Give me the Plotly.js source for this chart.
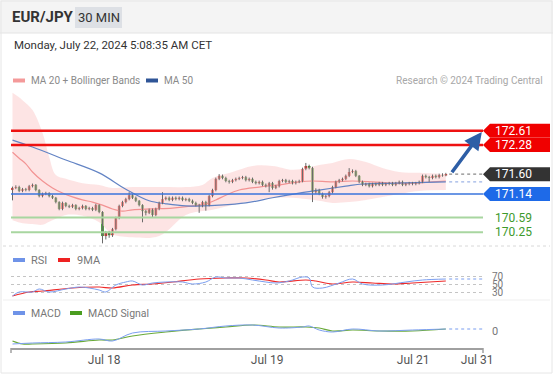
<!DOCTYPE html>
<html><head><meta charset="utf-8">
<script src="https://cdn.plot.ly/plotly-3.0.1.min.js"></script>
<style>html,body{margin:0;padding:0;background:#fff;}#chart{width:553px;height:375px;}</style>
</head><body><div id="chart"></div>
<script>
// ---------- DATA ----------
const opens = [171.23,171.28,171.30,171.21,171.25,171.23,171.32,171.35,171.23,171.09,
171.14,171.16,171.09,171.05,170.95,170.79,170.93,170.86,170.84,170.88,
170.79,170.81,170.86,170.79,170.81,170.77,170.88,170.72,170.16,170.23,
170.18,170.32,170.58,170.86,170.95,171.02,171.11,171.05,170.98,170.88,
170.74,170.70,170.77,170.65,170.79,170.93,171.02,171.05,171.00,171.05,
171.02,171.05,171.00,171.02,170.98,170.93,170.88,170.86,170.95,170.88,
171.09,171.23,171.49,171.56,171.51,171.44,171.42,171.46,171.49,171.51,
171.53,171.46,171.49,171.42,171.39,171.42,171.35,171.32,171.39,171.28,
171.32,171.44,171.46,171.42,171.44,171.39,171.42,171.44,171.72,171.79,
171.74,171.18,171.23,171.14,171.07,171.09,171.18,171.30,171.42,171.46,
171.49,171.56,171.65,171.67,171.56,171.42,171.35,171.37,171.32,171.37,
171.35,171.39,171.35,171.37,171.39,171.35,171.39,171.42,171.35,171.37,
171.39,171.37,171.39,171.42,171.56,171.53,171.51,171.56,171.53,171.58,
171.57];
const closes = [171.28,171.30,171.21,171.25,171.23,171.32,171.35,171.23,171.09,171.14,
171.16,171.09,171.05,170.95,170.79,170.93,170.86,170.84,170.88,170.79,
170.81,170.86,170.79,170.81,170.77,170.88,170.72,170.16,170.23,170.18,
170.32,170.58,170.86,170.95,171.02,171.11,171.05,170.98,170.88,170.74,
170.70,170.77,170.65,170.79,170.93,171.02,171.05,171.00,171.05,171.02,
171.05,171.00,171.02,170.98,170.93,170.88,170.86,170.95,170.88,171.09,
171.23,171.49,171.56,171.51,171.44,171.42,171.46,171.49,171.51,171.53,
171.46,171.49,171.42,171.39,171.42,171.35,171.32,171.39,171.28,171.32,
171.44,171.46,171.42,171.44,171.39,171.42,171.44,171.72,171.79,171.74,
171.18,171.23,171.14,171.07,171.09,171.18,171.30,171.42,171.46,171.49,
171.56,171.65,171.67,171.56,171.42,171.35,171.37,171.32,171.37,171.35,
171.39,171.35,171.37,171.39,171.35,171.39,171.42,171.35,171.37,171.39,
171.37,171.39,171.42,171.56,171.53,171.51,171.56,171.53,171.58,171.57,
171.60];
const highs = [171.31,171.34,171.33,171.28,171.28,171.35,171.38,171.37,171.25,171.17,
171.19,171.18,171.12,171.07,170.97,170.96,170.95,170.89,170.91,170.90,
170.84,170.89,170.88,170.84,170.84,170.91,170.90,170.74,170.28,170.28,
170.35,170.61,170.89,170.98,171.05,171.18,171.14,171.08,171.00,170.90,
170.77,170.80,170.80,170.82,170.96,171.18,171.08,171.08,171.08,171.08,
171.08,171.08,171.05,171.05,171.01,170.96,170.91,170.98,170.98,171.12,
171.26,171.52,171.60,171.59,171.54,171.47,171.49,171.52,171.54,171.56,
171.56,171.52,171.52,171.45,171.45,171.45,171.38,171.42,171.42,171.35,
171.47,171.49,171.49,171.47,171.47,171.45,171.47,171.75,171.86,171.82,
171.77,171.27,171.26,171.17,171.12,171.21,171.33,171.45,171.49,171.52,
171.59,171.74,171.71,171.70,171.58,171.45,171.40,171.40,171.40,171.40,
171.42,171.42,171.40,171.42,171.42,171.42,171.45,171.45,171.40,171.42,
171.42,171.42,171.45,171.59,171.59,171.56,171.59,171.59,171.61,171.62,
171.63];
const lows = [170.99,171.25,171.18,171.18,171.20,171.20,171.29,171.20,171.06,171.06,
171.11,171.06,171.02,170.92,170.76,170.76,170.83,170.81,170.81,170.76,
170.76,170.78,170.76,170.76,170.74,170.74,170.69,169.99,170.08,170.12,
170.14,170.29,170.55,170.83,170.92,170.99,171.02,170.95,170.85,170.48,
170.64,170.67,170.58,170.62,170.76,170.90,170.99,170.97,170.97,170.99,
170.99,170.97,170.97,170.95,170.90,170.85,170.70,170.83,170.75,170.85,
171.06,171.20,171.46,171.48,171.41,171.38,171.39,171.43,171.46,171.48,
171.43,171.43,171.39,171.36,171.36,171.32,171.29,171.18,171.24,171.25,
171.29,171.41,171.39,171.39,171.36,171.36,171.39,171.41,171.69,171.71,
170.95,171.14,171.11,171.03,171.03,171.06,171.15,171.27,171.39,171.43,
171.46,171.53,171.62,171.53,171.39,171.32,171.32,171.29,171.29,171.32,
171.32,171.32,171.32,171.34,171.32,171.32,171.36,171.32,171.32,171.34,
171.34,171.34,171.36,171.39,171.50,171.42,171.48,171.50,171.50,171.54,
171.55];

// Bollinger bands (sampled at candle indices)
const bandIdx   = [0,3,6,9,11,13,16,21,26,30,36,44,52,57,60,66,72,78,84,88,92,96,101,106,111,116,122,130];
const bbUpper   = [173.49,173.32,173.09,172.56,172.00,171.58,171.49,171.39,171.35,171.28,171.30,171.30,171.30,171.35,171.51,171.65,171.79,171.79,171.70,171.74,171.81,171.86,171.95,171.88,171.74,171.65,171.63,171.60];
const bbLower   = [170.53,170.46,170.44,170.42,170.49,170.56,170.65,170.63,170.48,170.20,170.13,170.16,170.65,170.74,170.77,170.88,170.98,171.05,171.05,171.02,170.98,170.93,170.95,171.00,171.07,171.14,171.21,171.23];
// MA 20
const ma20Idx = [0,2,4,6,9,12,15,18,21,24,27,30,33,36,42,48,54,58,61,64,68,74,80,86,90,96,102,108,114,120,126,130];
const ma20    = [172.11,171.97,171.84,171.65,171.44,171.28,171.16,171.07,171.00,170.95,170.88,170.79,170.74,170.77,170.79,170.81,170.86,170.91,171.00,171.11,171.23,171.30,171.35,171.42,171.44,171.42,171.44,171.42,171.39,171.39,171.42,171.44];
// MA 50
const ma50Idx = [0,6,16,26,34,41,46,52,62,70,78,86,92,100,105,115,130];
const ma50    = [172.39,172.23,171.93,171.63,171.25,170.98,170.91,170.86,170.88,170.93,171.05,171.16,171.23,171.32,171.37,171.39,171.42];
// RSI + 9MA
const rsiIdx = [0,2,6,8,11,16,20,23,26,28,31,34,36,39,42,46,51,54,58,61,64,68,72,76,79,83,87,89,90,93,98,102,105,111,118,123,130];
const rsi    = [20,30,30,37.5,30,37.5,42.5,40,35,30,47.5,55,57.5,47.5,52.5,55,55,50,55,67.5,65,65,60,55,52.5,57.5,67.5,65,42.5,40,52.5,62.5,50,47.5,55,60,62.5];
const rsiMaIdx = [0,5,9,18,26,30,36,42,48,56,64,70,76,80,88,91,96,102,108,114,120,130];
const rsiMa    = [20,30,32.5,40,42.5,40,47.5,50,55,62.5,65,65,60,55,60,57.5,50,55,52.5,50,52.5,57.5];
// MACD
const macdIdx = [0,6,16,26,30,36,46,56,64,72,80,87,89,92,96,102,110,120,130];
const macd    = [-0.13,-0.12,-0.11,-0.08,-0.10,-0.02,0.00,0.02,0.05,0.06,0.03,0.04,0.05,0.01,-0.01,0.02,0.00,0.01,0.02];
const sigIdx  = [0,3,6,16,26,30,36,46,56,64,72,80,88,92,96,102,110,120,130];
const signal  = [-0.10,-0.13,-0.13,-0.12,-0.09,-0.09,-0.05,-0.01,0.02,0.04,0.06,0.04,0.04,0.03,0.00,0.01,0.00,0.00,0.02];
// Levels
const levels      = [172.61, 172.28, 171.60, 171.14, 170.59, 170.25];
const levelLabels = ['172.61','172.28','171.60','171.14','170.59','170.25'];
const tickLabels  = ['Jul 18','Jul 19','Jul 21','Jul 31'];
const tickPos     = [27.5, 76.4, 120.2, 139.4];
const targetLevel = 172.61;

// ---------- HELPERS ----------
const W = 553, H = 375;
const px = x => x / W;
const py = y => 1 - y / H;
const FONT = "Roboto, 'Liberation Sans', Arial, sans-serif";
const X0 = 11, X1 = 483;
const XR = [-0.45, 141.15];
const pricePerPx = 1 / 43;

const idx = closes.map((_, i) => i);
const last = closes.length - 1;

const wx = [], wy = [];
idx.forEach(i => { wx.push(i, i, null); wy.push(lows[i], highs[i], null); });
const bodyBase = idx.map(i => Math.min(opens[i], closes[i]));
const bodyLen = idx.map(i => Math.max(Math.abs(closes[i] - opens[i]), 0.006));
const bodyCol = idx.map(i => closes[i] >= opens[i] ? '#e3231b' : '#2f8a1e');

const traces = [
  {x: bandIdx, y: bbUpper, type: 'scatter', mode: 'lines', line: {width: 0, shape: 'spline'}, hoverinfo: 'skip', xaxis: 'x', yaxis: 'y'},
  {x: bandIdx, y: bbLower, type: 'scatter', mode: 'lines', line: {width: 0, shape: 'spline'}, fill: 'tonexty', fillcolor: 'rgba(252,205,205,0.55)', hoverinfo: 'skip', xaxis: 'x', yaxis: 'y'},
  {x: ma20Idx, y: ma20, type: 'scatter', mode: 'lines', line: {color: '#f29393', width: 1.2, shape: 'spline'}, xaxis: 'x', yaxis: 'y'},
  {x: ma50Idx, y: ma50, type: 'scatter', mode: 'lines', line: {color: '#6283c4', width: 1.2, shape: 'spline'}, xaxis: 'x', yaxis: 'y'},
  {x: [ma50Idx[ma50Idx.length-1] + 1, XR[1]], y: [ma50[ma50.length-1], ma50[ma50.length-1]], type: 'scatter', mode: 'lines', line: {color: '#9db4e6', width: 1.2, dash: 'dot'}, xaxis: 'x', yaxis: 'y'},
  {x: [last + 1, XR[1]], y: [closes[last], closes[last]], type: 'scatter', mode: 'lines', line: {color: '#888', width: 1.2, dash: 'dot'}, xaxis: 'x', yaxis: 'y'},
  {x: wx, y: wy, type: 'scatter', mode: 'lines', line: {color: '#6a6a6a', width: 1}, connectgaps: false, hoverinfo: 'skip', xaxis: 'x', yaxis: 'y'},
  {x: idx, y: bodyLen, base: bodyBase, type: 'bar', width: 0.8, marker: {color: bodyCol, line: {width: 0}}, xaxis: 'x', yaxis: 'y'},
  {x: rsiMaIdx, y: rsiMa, type: 'scatter', mode: 'lines', line: {color: '#ee2a2a', width: 1.2, shape: 'spline'}, xaxis: 'x', yaxis: 'y2'},
  {x: rsiIdx, y: rsi, type: 'scatter', mode: 'lines', line: {color: '#7b9ef0', width: 1, shape: 'spline'}, xaxis: 'x', yaxis: 'y2'},
  {x: [rsiIdx[rsiIdx.length-1] + 1, XR[1]], y: [rsi[rsi.length-1], rsi[rsi.length-1]], type: 'scatter', mode: 'lines', line: {color: '#7b9ef0', width: 1.2, dash: 'dot'}, xaxis: 'x', yaxis: 'y2'},
  {x: sigIdx, y: signal, type: 'scatter', mode: 'lines', line: {color: '#6aaa3a', width: 1.2, shape: 'spline'}, xaxis: 'x', yaxis: 'y3'},
  {x: macdIdx, y: macd, type: 'scatter', mode: 'lines', line: {color: '#7b9ef0', width: 1, shape: 'spline'}, xaxis: 'x', yaxis: 'y3'},
  {x: [macdIdx[macdIdx.length-1] + 1, XR[1]], y: [macd[macd.length-1], macd[macd.length-1]], type: 'scatter', mode: 'lines', line: {color: '#7b9ef0', width: 1.2, dash: 'dot'}, xaxis: 'x', yaxis: 'y3'}
];

// ---------- SHAPES ----------
const shapes = [
  {type: 'rect', xref: 'paper', yref: 'paper', x0: px(0), x1: px(W), y0: py(33), y1: py(0), fillcolor: '#f4f4f4', line: {width: 0}, layer: 'below'},
  {type: 'line', xref: 'paper', yref: 'paper', x0: 0, x1: 1, y0: py(33), y1: py(33), line: {color: '#e4e4e4', width: 1}},
  {type: 'rect', xref: 'paper', yref: 'paper', x0: px(1), x1: px(552), y0: py(373), y1: py(1), line: {color: '#e6e6e6', width: 1}, layer: 'below'},
  {type: 'rect', xref: 'paper', yref: 'paper', x0: px(75), x1: px(122), y0: py(28), y1: py(7), fillcolor: '#dde0e5', line: {width: 0}, layer: 'below'},
  {type: 'rect', xref: 'paper', yref: 'paper', x0: px(13), x1: px(25), y0: py(82.5), y1: py(78.5), fillcolor: '#f49a9a', line: {width: 0}},
  {type: 'rect', xref: 'paper', yref: 'paper', x0: px(146), x1: px(158), y0: py(82.5), y1: py(78.5), fillcolor: '#2f5597', line: {width: 0}},
  {type: 'rect', xref: 'paper', yref: 'paper', x0: px(13), x1: px(25), y0: py(262), y1: py(258), fillcolor: '#6f93e8', line: {width: 0}},
  {type: 'rect', xref: 'paper', yref: 'paper', x0: px(58), x1: px(70), y0: py(262), y1: py(258), fillcolor: '#ee2222', line: {width: 0}},
  {type: 'rect', xref: 'paper', yref: 'paper', x0: px(13), x1: px(25), y0: py(315), y1: py(311), fillcolor: '#6f93e8', line: {width: 0}},
  {type: 'rect', xref: 'paper', yref: 'paper', x0: px(70), x1: px(82), y0: py(315), y1: py(311), fillcolor: '#4a9d1f', line: {width: 0}},
  {type: 'line', xref: 'paper', yref: 'paper', x0: px(3), x1: px(550), y0: py(246), y1: py(246), line: {color: '#d8d8d8', width: 1, dash: 'dot'}},
  {type: 'line', xref: 'paper', yref: 'paper', x0: px(3), x1: px(550), y0: py(300), y1: py(300), line: {color: '#efefef', width: 1}},
  {type: 'line', xref: 'paper', yref: 'paper', x0: px(X0), x1: px(X0), y0: py(348), y1: py(353), line: {color: '#a0a0a0', width: 1.5}},
  {type: 'line', xref: 'paper', yref: 'paper', x0: px(X1), x1: px(X1), y0: py(348), y1: py(353), line: {color: '#a0a0a0', width: 1.5}}
];
const lvlStyle = [
  {line: '#ee1111', w: 2.5, tag: '#f00000', txt: '#fff'},
  {line: '#ee1111', w: 2.5, tag: '#f00000', txt: '#fff'},
  {line: null, w: 0, tag: '#333333', txt: '#fff'},
  {line: '#3a74dc', w: 1.5, tag: '#1e6ae8', txt: '#fff'},
  {line: '#a8d6a0', w: 2, tag: null, txt: '#3d9a2c'},
  {line: '#a8d6a0', w: 2, tag: null, txt: '#3d9a2c'}
];
const halfH = 7 * pricePerPx;
levels.forEach((L, k) => {
  const s = lvlStyle[k];
  if (s.line) shapes.push({type: 'line', xref: 'paper', yref: 'y', x0: px(X0), x1: px(X1), y0: L, y1: L, line: {color: s.line, width: s.w}});
  if (s.tag) shapes.push({type: 'path', xref: 'paper', yref: 'y',
    path: `M ${px(483)},${L} L ${px(490)},${L + halfH} L ${px(550)},${L + halfH} L ${px(550)},${L - halfH} L ${px(490)},${L - halfH} Z`,
    fillcolor: s.tag, line: {width: 0}});
});

// ---------- ANNOTATIONS ----------
const ann = (x, y, text, size, color, extra) => Object.assign({xref: 'paper', yref: 'paper', x: px(x), y: py(y), text, showarrow: false, xanchor: 'left', yanchor: 'middle', font: {family: FONT, size, color}}, extra || {});
const annotations = [
  ann(10, 17.5, '<b>EUR/JPY</b>', 15, '#333'),
  ann(98.5, 17.5, '30 MIN', 13, '#333', {xanchor: 'center'}),
  ann(12, 45, 'Monday, July 22, 2024 5:08:35 AM CET', 11.5, '#333'),
  ann(29, 80.5, 'MA 20 + Bollinger Bands', 10, '#8a8a8a'),
  ann(162, 80.5, 'MA 50', 10, '#8a8a8a'),
  ann(545, 81, 'Research © 2024 Trading Central', 10, '#a8a8a8', {xanchor: 'right'}),
  ann(29, 260, 'RSI', 11, '#777'),
  ann(75, 260, '9MA', 11, '#777'),
  ann(29, 313, 'MACD', 10.5, '#777'),
  ann(86, 313, 'MACD Signal', 10.5, '#777')
];
levels.forEach((L, k) => {
  annotations.push({xref: 'paper', yref: 'y', x: px(493), y: L, text: levelLabels[k], showarrow: false, xanchor: 'left', yanchor: 'middle', font: {family: FONT, size: 12, color: lvlStyle[k].txt}});
});
annotations.push({xref: 'x', yref: 'y', axref: 'x', ayref: 'y', x: 140.8, y: targetLevel - 0.03, ax: last + 1.5, ay: closes[last] + 0.01,
  text: '', showarrow: true, arrowhead: 2, arrowsize: 1, arrowwidth: 3.5, arrowcolor: '#2d5ea6'});

const layout = {
  width: W, height: H, margin: {l: 0, r: 0, t: 0, b: 0},
  paper_bgcolor: '#fff', plot_bgcolor: 'rgba(0,0,0,0)', showlegend: false, barmode: 'overlay',
  font: {family: FONT, size: 11, color: '#777'},
  xaxis: {domain: [px(X0), px(X1)], range: XR, anchor: 'y3', tickvals: tickPos, ticktext: tickLabels,
    showline: true, linecolor: '#a0a0a0', linewidth: 1.5, ticks: '', showgrid: false, zeroline: false,
    tickfont: {family: FONT, size: 12, color: '#555'}, fixedrange: true},
  yaxis: {domain: [py(245), py(90)], range: [172.61 - (245 - 130.7) * pricePerPx, 172.61 + (130.7 - 90) * pricePerPx], anchor: 'x',
    showticklabels: false, showgrid: false, zeroline: false, fixedrange: true},
  yaxis2: {domain: [py(298), py(265)], range: [15, 97.5], anchor: 'x', side: 'right', tickvals: [30, 50, 70],
    showgrid: true, gridcolor: '#c4c4c4', griddash: 'dot', gridwidth: 1, zeroline: false, ticks: '',
    ticklabelstandoff: 8, tickfont: {family: FONT, size: 10, color: '#777'}, fixedrange: true},
  yaxis3: {domain: [py(348), py(318)], range: [-0.17, 0.13], anchor: 'x', side: 'right', tickvals: [0], ticktext: ['0'],
    showgrid: false, zeroline: false, ticks: '', ticklabelstandoff: 8, tickfont: {family: FONT, size: 11, color: '#777'}, fixedrange: true},
  shapes, annotations
};
Plotly.newPlot('chart', traces, layout, {displayModeBar: false, staticPlot: true});
</script></body></html>
